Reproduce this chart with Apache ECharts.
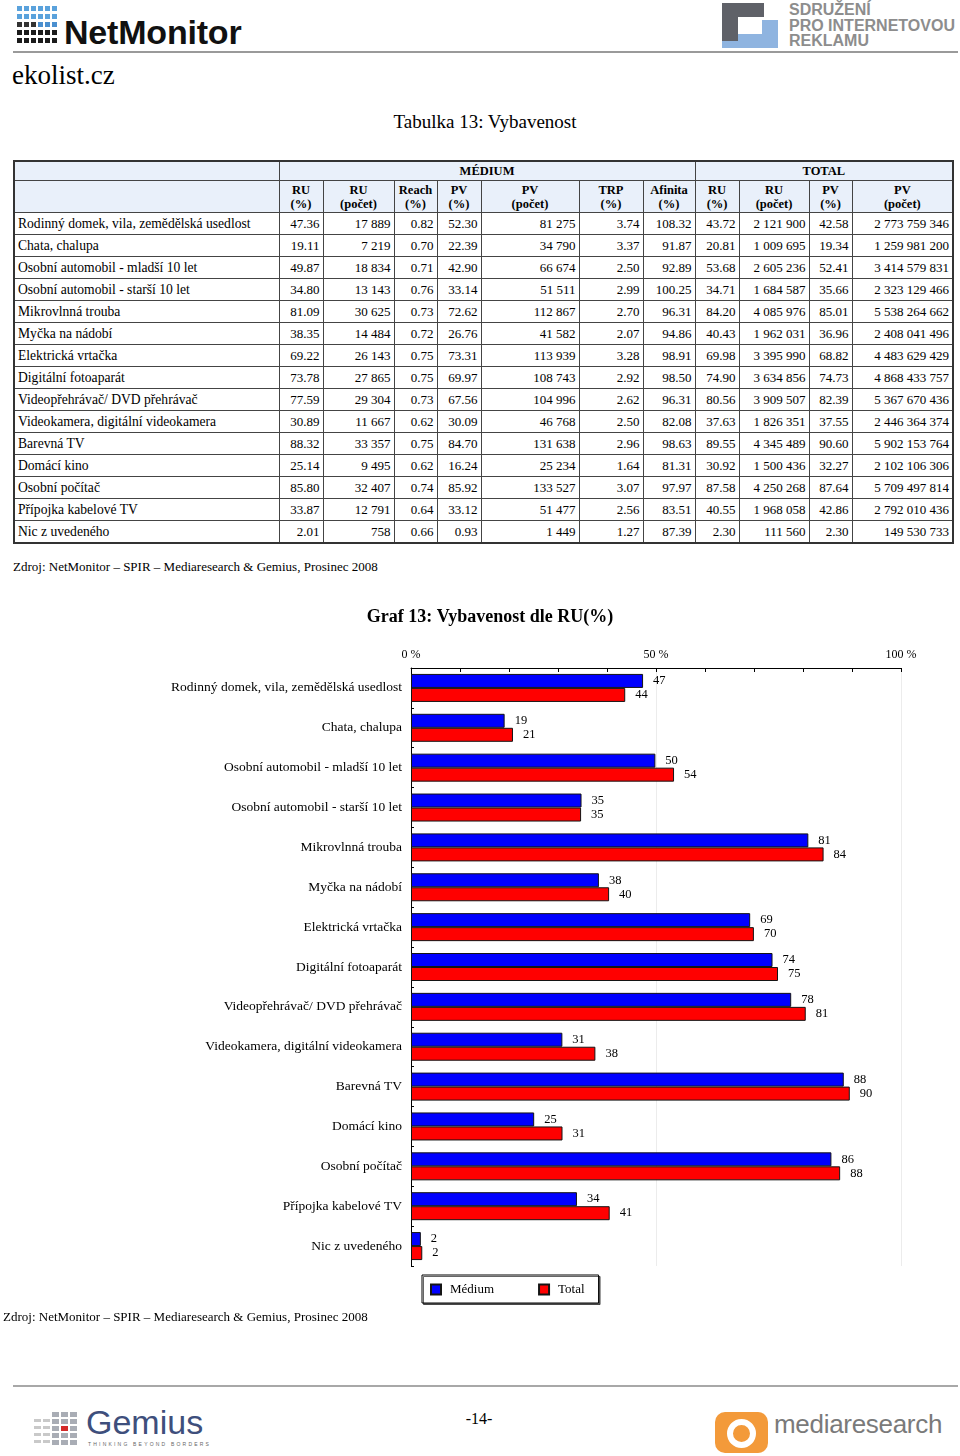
<!DOCTYPE html>
<html>
<head>
<meta charset="utf-8">
<script src="https://cdn.jsdelivr.net/npm/echarts@6/dist/echarts.min.js"></script>
<style>
  html, body { margin:0; padding:0; background:#fff; }
  body { width:960px; height:1456px; position:relative; overflow:hidden; font-family:"Liberation Serif", serif; color:#000; }
  .abs { position:absolute; }
  #tbl { position:absolute; left:13px; top:160px; width:939px; border-collapse:collapse; table-layout:fixed; font-family:"Liberation Serif", serif; font-size:13px; border:2px solid #333; }
  #tbl td { border:1px solid #444; padding:0 3px; height:21px; text-align:right; white-space:nowrap; overflow:hidden; }
  #tbl td.lab { text-align:left; font-size:13.6px; }
  #tbl tr.h td { background:#e9f0fa; text-align:center; font-weight:bold; font-size:12.5px; line-height:14px; }
  #tbl tr.h1 td { height:18px; }
  #tbl tr.h2 td { height:31px; }
  .sq { position:absolute; width:5px; height:5px; }
</style>
</head>
<body>
<!-- header -->
<div id="nmlogo" class="abs" style="left:17px;top:5px;width:42px;height:40px;"></div>
<div class="abs" style="left:64px;top:13px;font-family:'Liberation Sans',sans-serif;font-weight:bold;font-size:34px;letter-spacing:-0.2px;color:#111;">NetMonitor</div>
<div class="abs" style="left:722px;top:3px;width:42px;height:14px;background:#5f6168;"></div>
<div class="abs" style="left:722px;top:3px;width:16px;height:38px;background:#5f6168;"></div>
<div class="abs" style="left:738px;top:20px;width:40px;height:28px;background:#8fb4e0;"></div>
<div class="abs" style="left:738px;top:20px;width:24px;height:14px;background:#fff;"></div>
<div class="abs" style="left:722px;top:41px;width:16px;height:7px;background:#8fb4e0;"></div>
<div class="abs" style="left:789px;top:2px;font-family:'Liberation Sans',sans-serif;font-weight:bold;font-size:16px;line-height:15.5px;color:#8d8d8d;">SDRUŽENÍ<br>PRO INTERNETOVOU<br>REKLAMU</div>
<div class="abs" style="left:13px;top:51px;width:945px;height:2px;background:#9a9a9a;"></div>
<div class="abs" style="left:12px;top:60px;font-size:27px;">ekolist.cz</div>
<div class="abs" style="left:0;width:970px;top:111px;text-align:center;font-size:19px;">Tabulka 13: Vybavenost</div>

<table id="tbl"></table>

<div class="abs" style="left:13px;top:559px;font-size:13px;">Zdroj: NetMonitor – SPIR – Mediaresearch &amp; Gemius, Prosinec 2008</div>

<div id="chart" class="abs" style="left:0;top:595px;width:960px;height:720px;"></div>

<div class="abs" style="left:3px;top:1309px;font-size:13px;">Zdroj: NetMonitor – SPIR – Mediaresearch &amp; Gemius, Prosinec 2008</div>

<!-- footer -->
<div class="abs" style="left:13px;top:1385px;width:945px;height:2px;background:#a8a8a8;"></div>
<div id="gmlogo" class="abs" style="left:34px;top:1412px;width:50px;height:36px;"></div>
<div class="abs" style="left:86px;top:1403px;font-family:'Liberation Sans',sans-serif;font-size:34px;color:#3e4f7c;">Gemius</div>
<div class="abs" style="left:88px;top:1441px;font-family:'Liberation Sans',sans-serif;font-size:5px;letter-spacing:2.2px;color:#666;">THINKING BEYOND BORDERS</div>
<div class="abs" style="left:0;width:958px;top:1410px;text-align:center;font-size:16px;">-14-</div>
<div class="abs" style="left:715px;top:1412px;width:53px;height:41px;background:#f39a3a;border-radius:10px;"></div>
<div class="abs" style="left:727px;top:1419px;width:17px;height:17px;border:6px solid #fff;border-radius:50%;background:#f39a3a;"></div>
<div class="abs" style="left:774px;top:1409px;font-family:'Liberation Sans',sans-serif;font-size:26px;color:#7a7a7a;letter-spacing:-0.3px;">mediaresearch</div>

<script>
// ---------- data ----------
var categories = ["Rodinný domek, vila, zemědělská usedlost","Chata, chalupa","Osobní automobil - mladší 10 let","Osobní automobil - starší 10 let","Mikrovlnná trouba","Myčka na nádobí","Elektrická vrtačka","Digitální fotoaparát","Videopřehrávač/ DVD přehrávač","Videokamera, digitální videokamera","Barevná TV","Domácí kino","Osobní počítač","Přípojka kabelové TV","Nic z uvedeného"];
var mediumRUpct = [47.36,19.11,49.87,34.80,81.09,38.35,69.22,73.78,77.59,30.89,88.32,25.14,85.80,33.87,2.01];
var mediumRUcount = [17889,7219,18834,13143,30625,14484,26143,27865,29304,11667,33357,9495,32407,12791,758];
var mediumReach = [0.82,0.70,0.71,0.76,0.73,0.72,0.75,0.75,0.73,0.62,0.75,0.62,0.74,0.64,0.66];
var mediumPVpct = [52.30,22.39,42.90,33.14,72.62,26.76,73.31,69.97,67.56,30.09,84.70,16.24,85.92,33.12,0.93];
var mediumPVcount = [81275,34790,66674,51511,112867,41582,113939,108743,104996,46768,131638,25234,133527,51477,1449];
var mediumTRP = [3.74,3.37,2.50,2.99,2.70,2.07,3.28,2.92,2.62,2.50,2.96,1.64,3.07,2.56,1.27];
var mediumAffinity = [108.32,91.87,92.89,100.25,96.31,94.86,98.91,98.50,96.31,82.08,98.63,81.31,97.97,83.51,87.39];
var totalRUpct = [43.72,20.81,53.68,34.71,84.20,40.43,69.98,74.90,80.56,37.63,89.55,30.92,87.58,40.55,2.30];
var totalRUcount = [2121900,1009695,2605236,1684587,4085976,1962031,3395990,3634856,3909507,1826351,4345489,1500436,4250268,1968058,111560];
var totalPVpct = [42.58,19.34,52.41,35.66,85.01,36.96,68.82,74.73,82.39,37.55,90.60,32.27,87.64,42.86,2.30];
var totalPVcount = [2773759346,1259981200,3414579831,2323129466,5538264662,2408041496,4483629429,4868433757,5367670436,2446364374,5902153764,2102106306,5709497814,2792010436,149530733];
var headerGroups = ["MÉDIUM","TOTAL"];
var columnHeaders = ["RU<br>(%)","RU<br>(počet)","Reach<br>(%)","PV<br>(%)","PV<br>(počet)","TRP<br>(%)","Afinita<br>(%)","RU<br>(%)","RU<br>(počet)","PV<br>(%)","PV<br>(počet)"];
var axisTickLabels = {0:"0 %", 50:"50 %", 100:"100 %"};
var seriesNames = ["Médium","Total"];

// ---------- logos ----------
(function(){
  var nm = document.getElementById('nmlogo'), h='';
  for (var r=0;r<5;r++) for (var c=0;c<6;c++){
    var col = r<2 ? '#5aa2dc' : (r==2 ? (c<3?'#333':'#4a8fcf') : '#1b1b1b');
    h += '<div class="sq" style="left:'+(c*7)+'px;top:'+(r*8+1)+'px;background:'+col+'"></div>';
  }
  nm.innerHTML = h;
  var gm = document.getElementById('gmlogo'); h='';
  for (var r2=0;r2<5;r2++) for (var c2=0;c2<5;c2++){
    if (c2<2 && r2==0) continue;
    var col2 = (r2==2 && c2==3) ? '#d42a2a' : (c2<2 ? '#c9c9c9':'#a9adb5');
    h += '<div style="position:absolute;left:'+(c2*9)+'px;top:'+(r2*7)+'px;width:7px;height:'+(c2<2?3:5)+'px;background:'+col2+'"></div>';
  }
  gm.innerHTML = h;
})();

// ---------- table ----------
function fmtInt(n){ return String(n).replace(/\B(?=(\d{3})+(?!\d))/g, '\u00a0'); }
function fmt2(n){ return n.toFixed(2); }
(function(){
  var widths = [265,44,71,43,44,98,64,52,44,70,43,101];
  var t = document.getElementById('tbl');
  var h = '<colgroup>' + widths.map(function(w){return '<col style="width:'+w+'px">';}).join('') + '</colgroup>';
  h += '<tr class="h h1"><td></td><td colspan="7">'+headerGroups[0]+'</td><td colspan="4">'+headerGroups[1]+'</td></tr>';
  h += '<tr class="h h2"><td></td>' + columnHeaders.map(function(c){return '<td>'+c+'</td>';}).join('') + '</tr>';
  for (var i=0;i<categories.length;i++){
    h += '<tr><td class="lab">'+categories[i]+'</td>'+
      '<td>'+fmt2(mediumRUpct[i])+'</td><td>'+fmtInt(mediumRUcount[i])+'</td><td>'+fmt2(mediumReach[i])+'</td>'+
      '<td>'+fmt2(mediumPVpct[i])+'</td><td>'+fmtInt(mediumPVcount[i])+'</td><td>'+fmt2(mediumTRP[i])+'</td>'+
      '<td>'+fmt2(mediumAffinity[i])+'</td><td>'+fmt2(totalRUpct[i])+'</td><td>'+fmtInt(totalRUcount[i])+'</td>'+
      '<td>'+fmt2(totalPVpct[i])+'</td><td>'+fmtInt(totalPVcount[i])+'</td></tr>';
  }
  t.innerHTML = h;
})();

// ---------- chart ----------
var chart = echarts.init(document.getElementById('chart'), null, {renderer:'canvas'});
var serif = 'Liberation Serif';
var barLabel = { show:true, position:'right', distance:10, color:'#000', fontFamily:serif, fontSize:12.5,
  formatter:function(p){ return Math.round(p.value); } };
chart.setOption({
  animation:false,
  title:{ text:'Graf 13: Vybavenost dle RU(%)', left:485, top:8, textAlign:'center',
    textStyle:{ fontFamily:serif, fontSize:18, fontWeight:'bold', color:'#000' } },
  legend:{ left:422, top:680, orient:'horizontal', data:seriesNames, icon:'rect',
    itemWidth:10, itemHeight:10, itemGap:44, padding:[8,14,7,8],
    borderColor:'#000', borderWidth:1, backgroundColor:'#fff',
    shadowColor:'rgba(0,0,0,0.6)', shadowOffsetX:1.5, shadowOffsetY:1.5, shadowBlur:0,
    textStyle:{ fontFamily:serif, fontSize:13, color:'#000', padding:[0,0,0,4] } },
  grid:{ left:411, top:73, width:490, height:598 },
  xAxis:[
    { type:'value', position:'top', min:0, max:100, interval:10,
      axisLine:{ show:true, lineStyle:{ color:'#000', width:1 } },
      axisTick:{ show:true, inside:true, length:4, lineStyle:{ color:'#000' } },
      splitLine:{ show:false },
      axisLabel:{ margin:7, fontFamily:serif, fontSize:12, color:'#000', showMinLabel:true, showMaxLabel:true,
        formatter:function(v){ return axisTickLabels[v] || ''; } } },
    { type:'value', position:'top', min:0, max:100, interval:50,
      axisLine:{ show:false }, axisTick:{ show:false }, axisLabel:{ show:false },
      splitLine:{ show:true, lineStyle:{ color:'#ececec', width:1 } } }
  ],
  yAxis:{ type:'category', inverse:true, data:categories,
    axisLine:{ show:true, lineStyle:{ color:'#000', width:1 } },
    axisTick:{ show:true, inside:true, length:3, lineStyle:{ color:'#000' } },
    axisLabel:{ margin:9, fontFamily:serif, fontSize:13.5, color:'#000' } },
  series:[
    { name:seriesNames[0], type:'bar', data:mediumRUpct, barWidth:14, barGap:'0%', xAxisIndex:0,
      itemStyle:{ color:'#0000ff', borderColor:'#141414', borderWidth:1 }, label:barLabel },
    { name:seriesNames[1], type:'bar', data:totalRUpct, barWidth:14, barGap:'0%', xAxisIndex:0,
      itemStyle:{ color:'#ff0000', borderColor:'#141414', borderWidth:1 }, label:barLabel }
  ]
});
</script>
</body>
</html>
